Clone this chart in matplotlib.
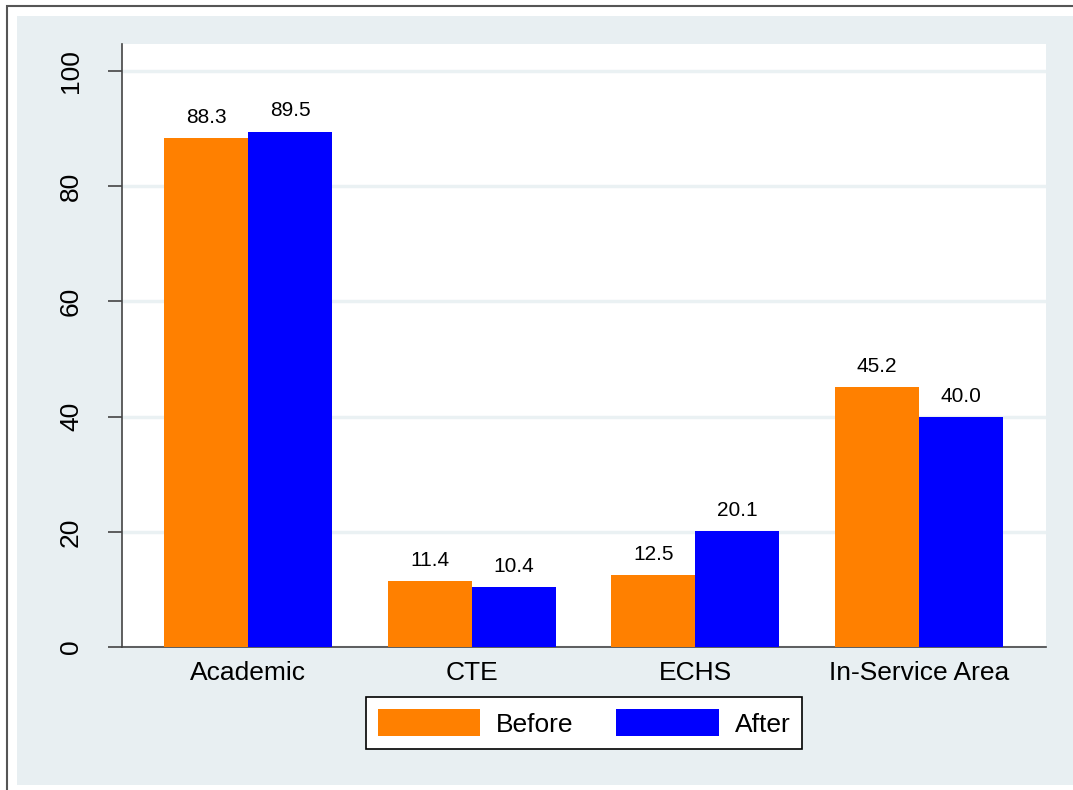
import numpy as np
import matplotlib.pyplot as plt
from matplotlib.patches import Rectangle

categories = ['Academic', 'CTE', 'ECHS', 'In-Service Area']
before = [88.3, 11.4, 12.5, 45.2]
after = [89.5, 10.4, 20.1, 40.0]
yticks = [0, 20, 40, 60, 80, 100]

plt.rcParams['font.family'] = ['Liberation Sans', 'DejaVu Sans']

W, H = 1073, 790
fig = plt.figure(figsize=(W / 100, H / 100), dpi=100)
fig.patch.set_facecolor('white')

# outer frame and light background (Stata style)
fig.patches.append(Rectangle((7 / W, -0.1), 1.2, (H - 6) / H + 0.1, transform=fig.transFigure,
                             facecolor='white', edgecolor='#555555', lw=1.5, zorder=-2))
fig.patches.append(Rectangle((17 / W, 5 / H), (W - 17) / W, (H - 16 - 5) / H, transform=fig.transFigure,
                             facecolor='#E8EFF2', edgecolor='none', zorder=-1))

ax = fig.add_axes([122 / W, (H - 647) / H, (1046 - 122) / W, (647 - 44) / H])
ax.set_facecolor('white')

x = np.arange(len(categories))
w = 0.376
b1 = ax.bar(x - w / 2, before, w, color='#FF8000', label='Before', zorder=3)
b2 = ax.bar(x + w / 2, after, w, color='#0000FF', label='After', zorder=3)

for bars in (b1, b2):
    for r in bars:
        ax.annotate(f'{r.get_height():.1f}', (r.get_x() + r.get_width() / 2, r.get_height()),
                    xytext=(0, 8), textcoords='offset points', ha='center', va='bottom',
                    fontsize=15)

ax.set_xlim(-0.565, 3.57)
ax.set_ylim(0, 104.7)
ax.set_yticks(yticks)
ax.set_yticklabels([str(t) for t in yticks], rotation=90, va='center', fontsize=19)
ax.set_xticks(x)
ax.set_xticklabels(categories, fontsize=19)
ax.tick_params(axis='x', length=0, pad=10)
ax.tick_params(axis='y', length=10, width=1.2, color='#444444', pad=18)
ax.grid(axis='y', color='#EAF1F3', lw=2.5, zorder=1)
for s in ['top', 'right']:
    ax.spines[s].set_visible(False)
for s in ['left', 'bottom']:
    ax.spines[s].set_color('#444444')
    ax.spines[s].set_linewidth(1.2)

leg = fig.legend(loc='center', bbox_to_anchor=(584 / W, (H - 723) / H), ncol=2, fontsize=19,
                 frameon=True, fancybox=False, edgecolor='black', facecolor='white', framealpha=1,
                 handlelength=3.9, handleheight=1.2, columnspacing=1.6, handletextpad=0.6,
                 borderpad=0.45)
leg.get_frame().set_linewidth(1.2)

fig.savefig('out.png', dpi=100)
